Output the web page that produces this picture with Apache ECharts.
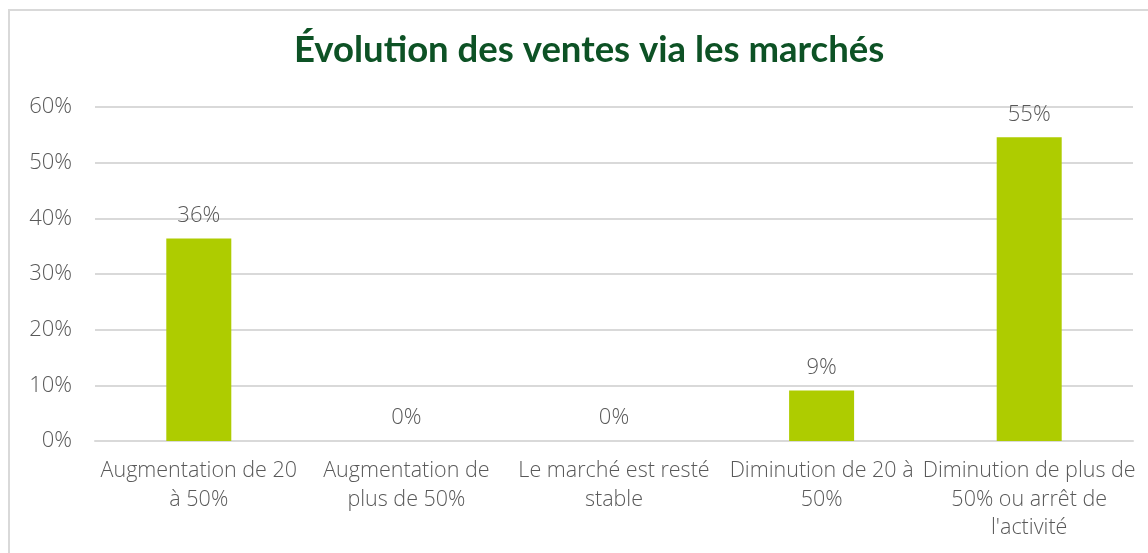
<!DOCTYPE html>
<html><head><meta charset="utf-8">
<script src="https://cdn.jsdelivr.net/npm/echarts@6/dist/echarts.min.js"></script>
<style>
html,body{margin:0;padding:0;background:#fff;}
#frame{position:absolute;left:8px;top:9px;width:1150px;height:560px;border:2px solid #d9d9d9;box-sizing:border-box;}
#c{position:absolute;left:0;top:0;width:1148px;height:553px;}
</style></head>
<body>
<div id="frame"></div>
<div id="c"></div>
<script>
const title = 'Évolution des ventes via les marchés';
const categories = [
  'Augmentation de 20\nà 50%',
  'Augmentation de\nplus de 50%',
  'Le marché est resté\nstable',
  'Diminution de 20 à\n50%',
  'Diminution de plus de\n50% ou arrêt de\nl\'activité'
];
const values = [0.3636, 0, 0, 0.0909, 0.5455];
const yTicks = [0, 0.1, 0.2, 0.3, 0.4, 0.5, 0.6];

const chart = echarts.init(document.getElementById('c'), null, {renderer:'canvas'});
const font = 'Open Sans';
chart.setOption({
  animation: false,
  title: {
    text: title, left: 289, top: 27,
    textStyle: {fontFamily: 'Lato', fontSize: 36.5, fontWeight: 'bold', color: '#0d5225'}
  },
  grid: {left: 95, right: 15, top: 107, bottom: 112, containLabel: false},
  xAxis: {
    type: 'category', data: categories,
    axisLine: {show: true, lineStyle: {color: '#d9d9d9', width: 2}},
    axisTick: {show: false},
    axisLabel: {fontFamily: font, fontSize: 21.5, color: '#595959', fontWeight: 300, lineHeight: 28.5, margin: 16, interval: 0}
  },
  yAxis: {
    type: 'value', min: yTicks[0], max: yTicks[yTicks.length-1], interval: 0.1,
    axisLine: {show: false}, axisTick: {show: false},
    splitLine: {lineStyle: {color: '#d9d9d9', width: 2}},
    axisLabel: {fontFamily: font, fontSize: 22, color: '#595959', fontWeight: 300, margin: 23,
      formatter: v => Math.round(v*100) + '%'}
  },
  series: [{
    type: 'bar', data: values, barWidth: 65,
    itemStyle: {color: '#aecc00'},
    label: {show: true, position: 'top', distance: 12, fontFamily: font, fontSize: 22, fontWeight: 300, color: '#595959',
      formatter: p => Math.round(p.value*100) + '%'}
  }]
});
</script>
</body></html>
